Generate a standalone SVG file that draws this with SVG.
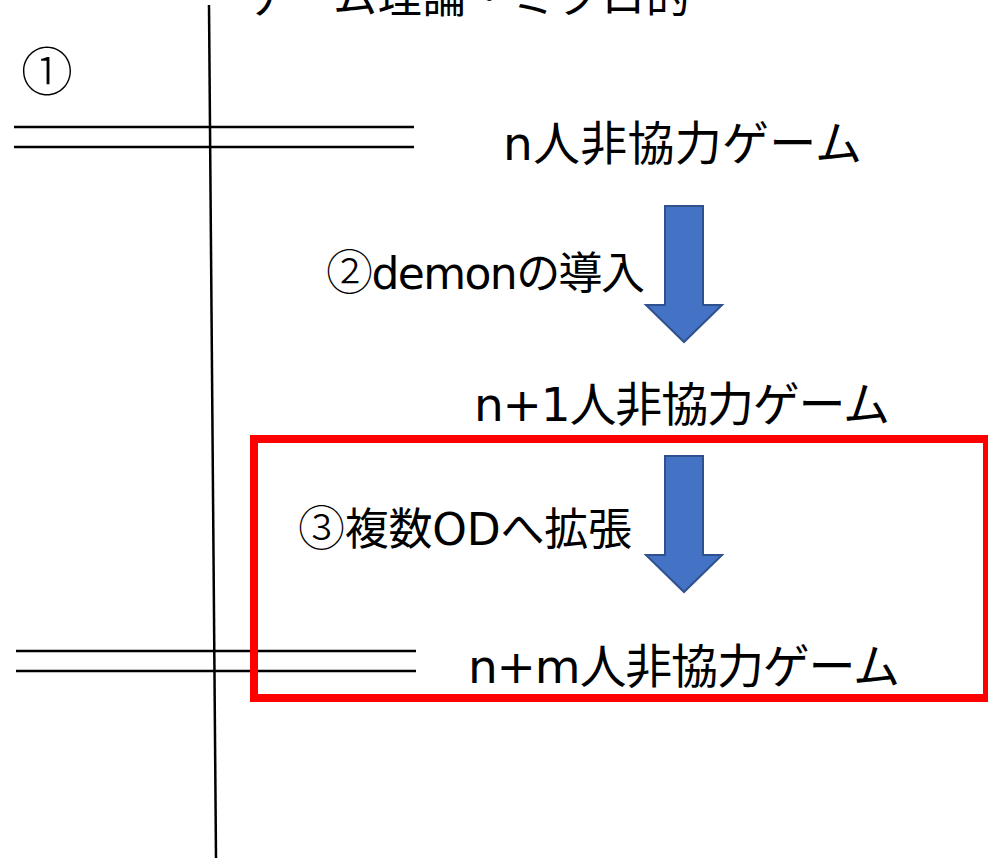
<svg xmlns="http://www.w3.org/2000/svg" width="988" height="858" viewBox="0 0 988 858">
<style>
.t{font-family:"DejaVu Sans","Noto Sans CJK JP",sans-serif;fill:#000}
.c{font-family:"Noto Sans CJK JP",sans-serif;font-weight:300}
.big{font-size:47px}
.mid{font-size:44px}
.ln{stroke:#000;stroke-width:2.5;fill:none}
.arr{fill:#4472C4;stroke:#2F528F;stroke-width:2;stroke-linejoin:miter}
</style>
<rect x="0" y="0" width="988" height="858" fill="#fff"/>
<g id="title"><text class="t mid" x="245" y="13" textLength="445" lengthAdjust="spacing">ゲーム理論・ミクロ的</text></g>
<g id="axes">
<line class="ln" x1="209" y1="5" x2="216" y2="858"/>
<line class="ln" x1="14" y1="127" x2="414" y2="127"/>
<line class="ln" x1="14" y1="147" x2="414" y2="147"/>
<line class="ln" x1="16" y1="651" x2="416" y2="651"/>
<line class="ln" x1="16" y1="671" x2="416" y2="671"/>
</g>
<g id="label1"><text class="t c" font-size="52" x="21" y="91">①</text></g>
<g id="node-n"><text class="t big" x="503" y="160" textLength="359" lengthAdjust="spacing">n人非協力ゲーム</text></g>
<g id="node-n1"><text class="t big" x="474" y="421" textLength="416" lengthAdjust="spacing">n+1人非協力ゲーム</text></g>
<g id="highlight"><rect x="254" y="439" width="733" height="259" fill="none" stroke="#FF0000" stroke-width="8"/></g>
<g id="node-nm"><text class="t big" x="468" y="683" textLength="432" lengthAdjust="spacing">n+m人非協力ゲーム</text></g>
<g id="label2"><text class="t mid" x="326" y="289" textLength="319" lengthAdjust="spacing"><tspan class="c" font-size="47">②</tspan>demonの導入</text></g>
<g id="label3"><text class="t mid" x="298" y="545" textLength="334" lengthAdjust="spacing"><tspan class="c" font-size="47">③</tspan>複数ODへ拡張</text></g>
<g id="connectors">
<polygon class="arr" points="665,206 703,206 703,305 722,305 684,342 646,305 665,305"/>
<polygon class="arr" points="665,456 703,456 703,555 722,555 684,592 646,555 665,555"/>
</g>
</svg>
